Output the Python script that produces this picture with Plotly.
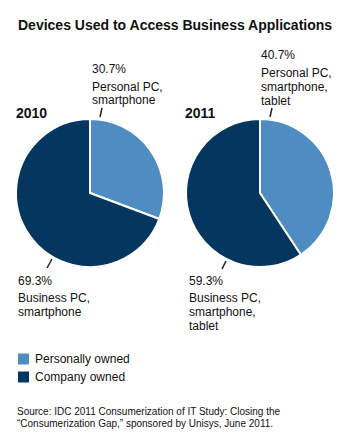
import plotly.graph_objects as go

W, H = 350, 448
years = ["2010", "2011"]
categories = ["Personally owned", "Company owned"]
values_2010 = [30.7, 69.3]
values_2011 = [40.7, 59.3]
personal_labels = [["Personal PC,", "smartphone"], ["Personal PC,", "smartphone,", "tablet"]]
business_labels = [["Business PC,", "smartphone"], ["Business PC,", "smartphone,", "tablet"]]
source_lines = ["Source: IDC 2011 Consumerization of IT Study: Closing the",
                "\u201cConsumerization Gap,\u201d sponsored by Unisys, June 2011."]
colors = ["#4E8CC2", "#043660"]
FONT = "Liberation Sans, Arial, sans-serif"

def px(x):
    return x / W

def py(y):
    return 1 - y / H

fig = go.Figure()
domains = [(16, 164), (186, 334)]
for vals, (x0, x1), yr in zip([values_2010, values_2011], domains, years):
    fig.add_trace(go.Pie(
        labels=categories, values=vals, sort=False, direction="clockwise",
        rotation=0, textinfo="none", hoverinfo="label+percent",
        marker=dict(colors=colors, line=dict(color="white", width=2)),
        domain=dict(x=[px(x0), px(x1)], y=[py(267), py(119)]),
        showlegend=False, name=yr,
    ))

anns = []
def text(x, y, s, size=12, bold=False, anchor="left"):
    anns.append(dict(x=px(x), y=py(y), xref="paper", yref="paper", text=("<b>%s</b>" % s) if bold else s,
                     showarrow=False, xanchor=anchor, yanchor="middle", align="left", borderpad=0,
                     font=dict(family=FONT, size=size, color="#111111")))

def lines(x, y0, items, step=13.8, size=12):
    for i, s in enumerate(items):
        text(x, y0 + i * step, s, size=size)

text(175, 25, "Devices Used to Access Business Applications", size=14, bold=True, anchor="center")
text(15, 113, years[0], size=14, bold=True)
text(184, 113, years[1], size=14, bold=True)

# top labels
text(91, 69, "%.1f%%" % values_2010[0])
lines(91, 86.5, personal_labels[0])
text(260, 55, "%.1f%%" % values_2011[0])
lines(260, 73, personal_labels[1])
# bottom labels
text(17, 281, "%.1f%%" % values_2010[1])
lines(17, 298, business_labels[0])
text(188, 281, "%.1f%%" % values_2011[1])
lines(188, 298, business_labels[1])

lines(16, 411, source_lines, step=12, size=10)

# legend
shapes = []
for i, (cat, col) in enumerate(zip(categories, colors)):
    yc = 359 + i * 18
    shapes.append(dict(type="rect", xref="paper", yref="paper", x0=px(18), x1=px(29),
                       y0=py(yc + 5.5), y1=py(yc - 5.5), fillcolor=col, line=dict(width=0)))
    text(34, yc, cat, size=12)

# leader ticks
for (xa, ya, xb, yb) in [(100, 117, 102, 108), (270, 117, 272, 108), (47, 268, 52, 259), (222, 269, 226, 261)]:
    shapes.append(dict(type="line", xref="paper", yref="paper", x0=px(xa), y0=py(ya), x1=px(xb), y1=py(yb),
                       line=dict(color="#222222", width=1.5)))

fig.update_layout(width=W, height=H, margin=dict(l=0, r=0, t=0, b=0),
                  paper_bgcolor="white", plot_bgcolor="white",
                  annotations=anns, shapes=shapes, showlegend=False)
fig.write_html("out.html")
